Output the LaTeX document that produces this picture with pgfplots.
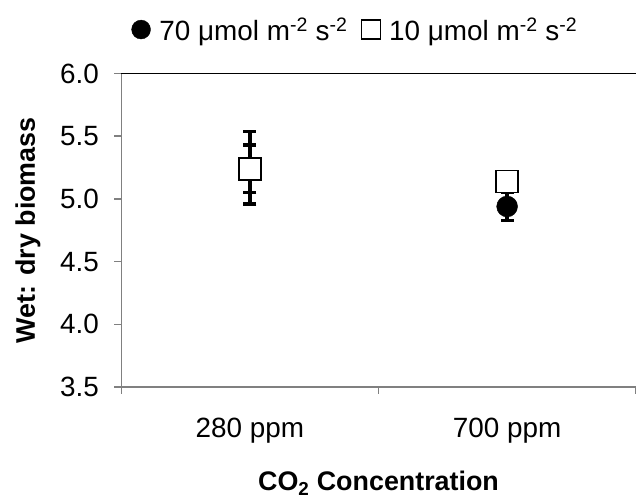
\documentclass[border=0pt]{standalone}
\usepackage{pgfplots}
\pgfplotsset{compat=1.18}
\usepackage{fontspec}
\setmainfont{Liberation Sans}
\usetikzlibrary{calc}
\definecolor{axgray}{RGB}{128,128,128}
\begin{document}
\begin{tikzpicture}
\begin{axis}[
  scale only axis,
  width=517pt, height=315pt,
  xmin=0, xmax=2,
  ymin=3.5, ymax=6.0,
  axis x line=bottom, axis y line=left,
  axis line style={-, axgray, line width=1.6pt},
  xtick={0,1,2}, xticklabels={},
  extra x ticks={0.5,1.5},
  extra x tick labels={280 ppm,700 ppm},
  extra x tick style={major tick length=0pt, tick label style={yshift=-28pt}},
  ytick={3.5,4.0,4.5,5.0,5.5,6.0},
  yticklabel style={xshift=-12pt, /pgf/number format/fixed, /pgf/number format/fixed zerofill, /pgf/number format/precision=1, /pgf/number format/assume math mode=true},
  tick style={axgray, line width=1.6pt},
  major tick length=7pt,
  tick align=outside,
  tick label style={font=\fontsize{28}{32}\selectfont, black},
  xlabel={CO\textsubscript{2} Concentration},
  ylabel={Wet: dry biomass},
  label style={font=\fontsize{27}{31}\selectfont\bfseries},
  xlabel style={yshift=-14pt},
  ylabel style={yshift=13pt},
  clip=false,
  legend columns=2,
  legend style={draw=none, fill=none, at={(0.455,1)}, anchor=south, yshift=28pt,
    font=\fontsize{28}{32}\selectfont, column sep=7pt,
    /tikz/every even column/.append style={column sep=12pt}},
  legend image post style={mark size=9.5pt},
]
\draw[black, line width=1.6pt] (rel axis cs:0,1) -- (rel axis cs:1,1);
% 70 umol (filled circles)
\addplot[only marks, mark=*, mark size=10.5pt, black, mark options={fill=black},
  error bars/.cd, y dir=both, y explicit,
  error bar style={line width=3.4pt, black},
  error mark options={rotate=90, mark size=6.5pt, line width=3.2pt, black}]
  table[x=x, y=y, y error plus=ep, y error minus=em] {
x y ep em
0.5 5.24 0.19 0.19
1.5 4.94 0.11 0.11
};
\addlegendentry{70 μmol m\textsuperscript{-2} s\textsuperscript{-2}}
% 10 umol (open squares)
\addplot[only marks, mark=square*, mark size=11pt, black, mark options={fill=white, line width=1.5pt},
  error bars/.cd, y dir=both, y explicit,
  error bar style={line width=3.4pt, black},
  error mark options={rotate=90, mark size=6.5pt, line width=3.2pt, black}]
  table[x=x, y=y, y error plus=ep, y error minus=em] {
x y ep em
0.5 5.24 0.30 0.28
1.5 5.14 0.05 0.05
};
\addlegendentry{10 μmol m\textsuperscript{-2} s\textsuperscript{-2}}
\end{axis}
\path ($(current axis.south west)+(-122pt,-108pt)$) rectangle ($(current axis.north east)+(0pt,74pt)$);
\end{tikzpicture}
\end{document}
